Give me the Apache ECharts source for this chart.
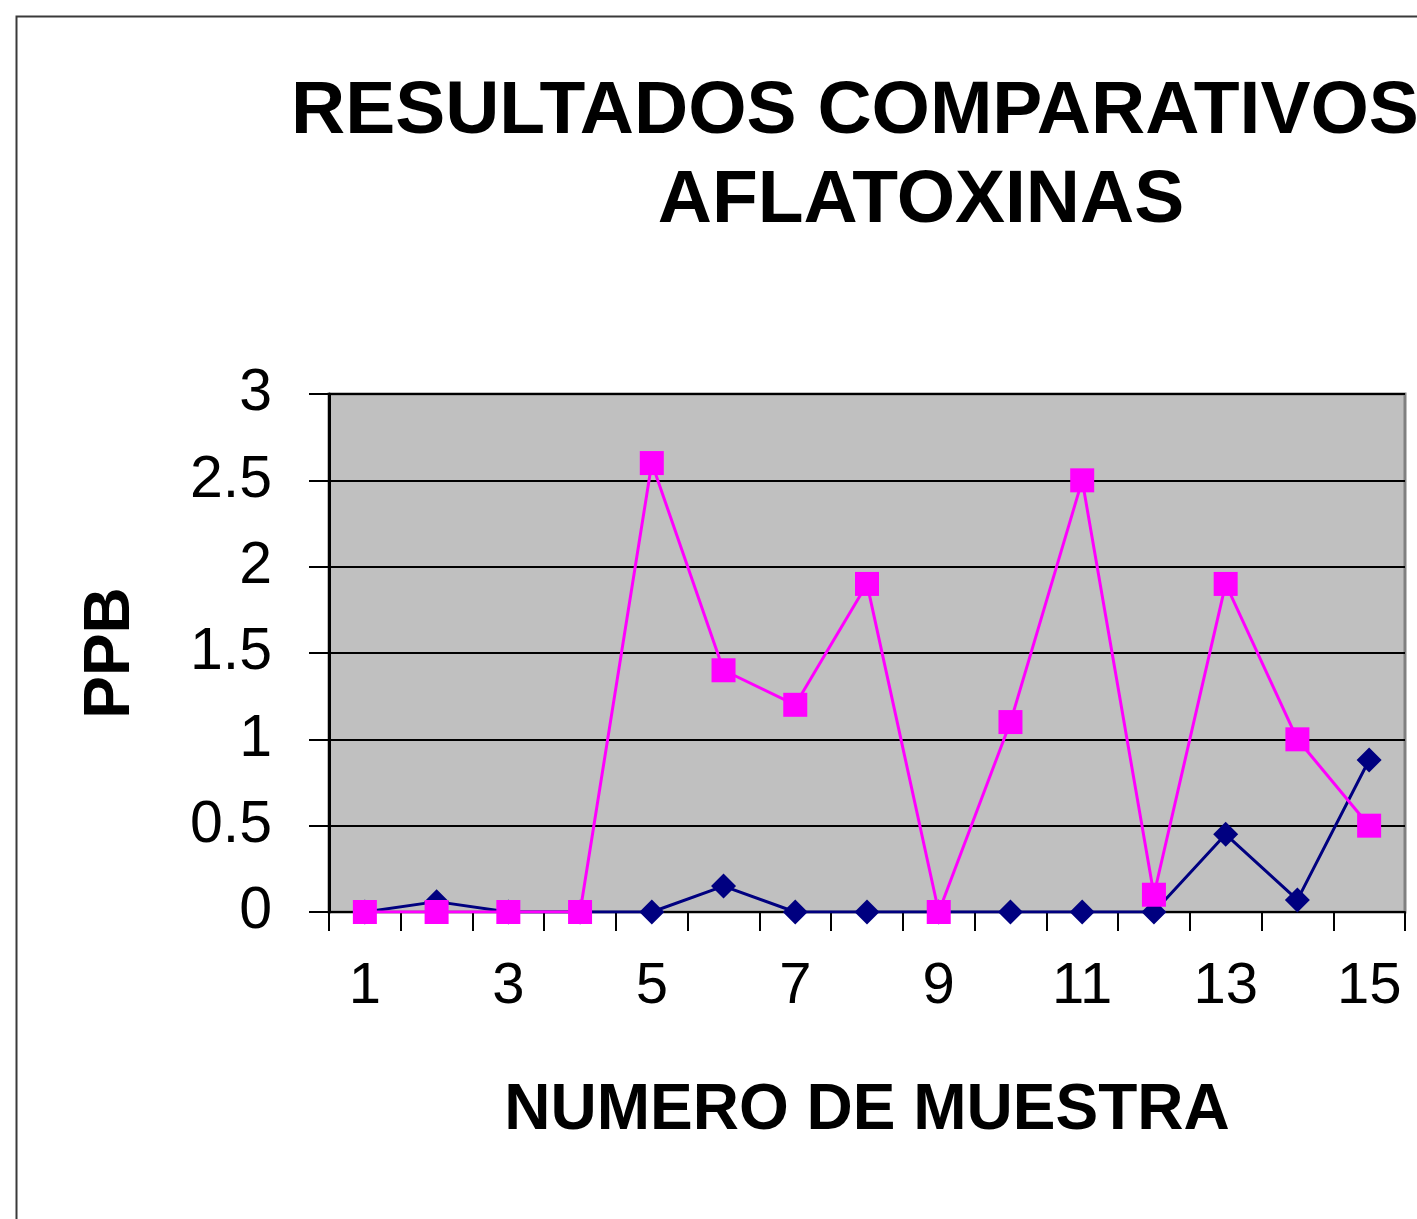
<!DOCTYPE html>
<html>
<head>
<meta charset="utf-8">
<script src="https://cdn.jsdelivr.net/npm/echarts@6/dist/echarts.min.js"></script>
<style>
  html, body { margin: 0; padding: 0; overflow: hidden; background: #fff; }
  #chart { width: 1842px; height: 1219px; }
</style>
</head>
<body>
<div id="chart"></div>
<script>
const muestras = ["1", "2", "3", "4", "5", "6", "7", "8", "9", "10", "11", "12", "13", "14", "15"];
const serieAzul = [0, 0.06, 0, 0, 0, 0.15, 0, 0, 0, 0, 0, 0, 0.45, 0.07, 0.88];
const serieRosa = [0, 0, 0, 0, 2.6, 1.4, 1.2, 1.9, 0, 1.1, 2.5, 0.1, 1.9, 1.0, 0.5];
const yTicks = [0, 0.5, 1, 1.5, 2, 2.5, 3];

const font = "'Liberation Sans', Arial, sans-serif";
const titleStyle = { fontFamily: font, fontSize: 75, fontWeight: "bold", color: "#000" };

const chart = echarts.init(document.getElementById("chart"));
chart.setOption({
  animation: false,
  backgroundColor: "#fff",
  // the first title line runs off the right edge in the original, so it is placed by its left edge
  title: [
    { text: "RESULTADOS COMPARATIVOS", left: 286, top: 70, textStyle: titleStyle },
    { text: "AFLATOXINAS", left: "center", top: 159, textStyle: titleStyle },
  ],
  graphic: [
    {
      type: "rect",
      shape: { x: 16.5, y: 16.5, width: 1809, height: 1400 },
      style: { fill: null, stroke: "#3a3a3a", lineWidth: 2 },
      silent: true,
    },
  ],
  grid: {
    left: 329,
    top: 394,
    width: 1076,
    height: 518,
    show: true,
    backgroundColor: "#c0c0c0",
    borderColor: "#808080",
    borderWidth: 3,
  },
  xAxis: {
    type: "category",
    data: muestras,
    boundaryGap: true,
    name: "NUMERO DE MUESTRA",
    nameLocation: "middle",
    nameGap: 167,
    nameTextStyle: { fontFamily: font, fontSize: 64, fontWeight: "bold", color: "#000" },
    axisLine: { show: true, lineStyle: { color: "#000", width: 2 } },
    axisTick: { show: true, interval: 0, length: 19, lineStyle: { color: "#000", width: 2 } },
    axisLabel: { interval: 1, margin: 46, fontFamily: font, fontSize: 58, color: "#000" },
    splitLine: { show: false },
  },
  yAxis: {
    type: "value",
    min: yTicks[0],
    max: yTicks[yTicks.length - 1],
    interval: 0.5,
    name: "PPB",
    nameLocation: "middle",
    nameRotate: 90,
    nameGap: 186,
    nameTextStyle: { fontFamily: font, fontSize: 64, fontWeight: "bold", color: "#000" },
    axisLine: { show: true, lineStyle: { color: "#000", width: 3 } },
    axisTick: { show: true, inside: false, length: 20, lineStyle: { color: "#000", width: 2 } },
    axisLabel: { margin: 57, fontFamily: font, fontSize: 59, color: "#000" },
    splitLine: { show: true, lineStyle: { color: "#000", width: 2 } },
  },
  series: [
    {
      name: "Serie 1",
      type: "line",
      data: serieAzul,
      symbol: "diamond",
      symbolSize: 25,
      lineStyle: { color: "#000080", width: 3 },
      itemStyle: { color: "#000080" },
      z: 3,
    },
    {
      name: "Serie 2",
      type: "line",
      data: serieRosa,
      symbol: "rect",
      symbolSize: 24,
      lineStyle: { color: "#ff00ff", width: 3 },
      itemStyle: { color: "#ff00ff" },
      z: 4,
    },
  ],
});
</script>
</body>
</html>
